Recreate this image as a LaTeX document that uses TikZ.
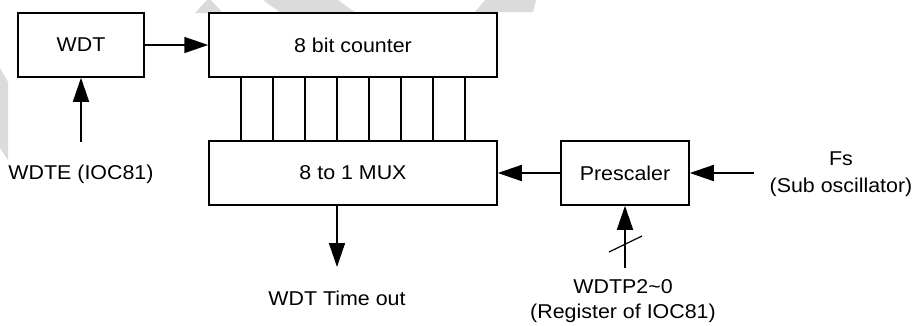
\documentclass[tikz,border=0pt]{standalone}
\usepackage{fontspec}
\setmainfont[FakeStretch=1.07]{Liberation Sans}
\usetikzlibrary{arrows.meta}

\tikzset{
  blk/.style={draw, fill=white, line width=1.5pt, inner sep=0pt,
              font=\fontsize{20}{24}\selectfont},
  lbl/.style={anchor=base, inner sep=0pt, font=\fontsize{20}{24}\selectfont},
  arr/.style={line width=1.5pt, -{Triangle[length=24pt,width=16pt]}},
  wire/.style={line width=1.5pt},
  shade/.style={fill=black!14, draw=none}
}

\begin{document}
\begin{tikzpicture}[x=1pt, y=-1pt]
  % page frame
  \fill[white] (0,0) rectangle (916,325);
  \useasboundingbox (0,0) rectangle (916,325);

  % faint background marks
  \fill[shade] (195,13) -- (207,0) -- (211,0) -- (223,13) -- cycle;
  \fill[shade] (263,0) -- (338,0) -- (356,13) -- (281,13) -- cycle;
  \fill[shade] (475,12) -- (485,0) -- (536,0) -- (533,12) -- cycle;
  \fill[shade] (0,68) -- (8,82) -- (8,160) -- (0,148) -- cycle;

  % blocks
  \node[blk, minimum width=126pt, minimum height=64pt] (wdt) at (81,45) {WDT};
  \node[blk, minimum width=288pt, minimum height=64pt] (cnt) at (353,45) {8 bit counter};
  \node[blk, minimum width=288pt, minimum height=64pt] (mux) at (353,173) {8 to 1 MUX};
  \node[blk, minimum width=128pt, minimum height=64pt] (pre) at (625,173) {Prescaler};

  % eight counter outputs into the multiplexer
  \foreach \dx in {-112,-80,-48,-16,16,48,80,112}
    \draw[wire] ([xshift=\dx pt]cnt.south) -- ([xshift=\dx pt]mux.north);

  % labels
  \node[lbl] (wdte) at (81,179) {WDTE (IOC81)};
  \node[lbl] (tout) at (337,305) {WDT Time out};
  \node[lbl] (fs)   at (841,165) {Fs};
  \node[lbl] (sub)  at (841,192) {(Sub oscillator)};
  \node[lbl] (wdtp) at (623,293) {WDTP2\textasciitilde 0};
  \node[lbl] (reg)  at (623,318) {(Register of IOC81)};

  % free ends of the signal lines
  \coordinate (wdtein)  at (81,142);
  \coordinate (toutend) at (337,267);
  \coordinate (fsin)    at (754,173);
  \coordinate (wdtpin)  at (625,268);
  \coordinate (bus)     at (625,244);

  % connections
  \draw[arr] (wdt) -- (cnt);
  \draw[arr] (wdtein) -- (wdt.south);
  \draw[arr] ([xshift=-16pt]mux.south) -- (toutend);
  \draw[arr] (pre) -- (mux);
  \draw[arr] (fsin) -- (pre.east);
  \draw[arr] (wdtpin) -- (pre.south);

  % bus width mark
  \draw[line width=1.2pt] ([shift={(-16,8)}]bus) -- ([shift={(17,-8)}]bus);
\end{tikzpicture}
\end{document}
